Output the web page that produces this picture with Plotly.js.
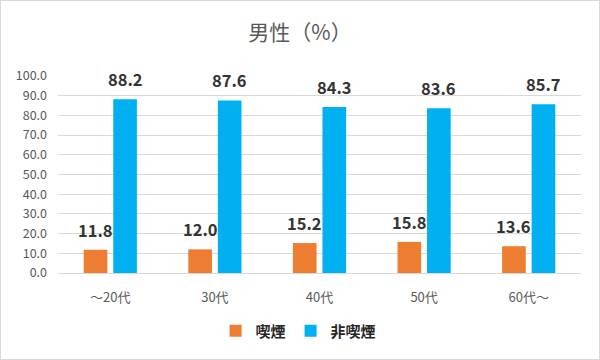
<!DOCTYPE html>
<html><head><meta charset="utf-8">
<script src="https://cdn.plot.ly/plotly-3.0.1.min.js"></script>
<style>body{margin:0;}#c{width:600px;height:360px;box-sizing:border-box;border:1px solid #d9d9d9;}</style>
</head><body><div id="c"></div>
<script>
const categories = ["～20代", "30代", "40代", "50代", "60代～"];
const smoking = [11.8, 12.0, 15.2, 15.8, 13.6];
const nonSmoking = [88.2, 87.6, 84.3, 83.6, 85.7];
const seriesNames = ["喫煙", "非喫煙"];
const tickVals = [0,10,20,30,40,50,60,70,80,90,100];

const FONT = "'Noto Sans CJK JP', 'Noto Sans', sans-serif";
const colors = ["#ED7D31", "#00B0F0"];

const traces = [
  {type:"bar", name:seriesNames[0], x:categories, y:smoking, marker:{color:colors[0]}},
  {type:"bar", name:seriesNames[1], x:categories, y:nonSmoking, marker:{color:colors[1]}}
];

const annotations = [];
[smoking, nonSmoking].forEach((vals, si) => {
  vals.forEach((v, i) => {
    annotations.push({
      x: categories[i], y: v, xref:"x", yref:"y",
      text: v.toFixed(1), showarrow:false,
      xshift: si === 0 ? -14.75 : 14.75, yshift: 6,
      yanchor:"bottom",
      font:{family:FONT, size:16.5, color:"#333333", weight:"bold"}
    });
  });
});

const layout = {
  width: 598, height: 358,
  margin:{l:57, r:18, t:75, b:80},
  paper_bgcolor:"#ffffff", plot_bgcolor:"#ffffff",
  title:{text:"男性（%）", x:0.5, xanchor:"center", y:0.912, yanchor:"middle",
         font:{family:FONT, size:21, color:"#595959"}},
  barmode:"group", bargap:0.435, bargroupgap:0.2,
  xaxis:{type:"category", tickfont:{family:FONT, size:13, color:"#595959"},
         ticklabelstandoff:15, showgrid:false, showline:false, zeroline:false},
  yaxis:{range:[0,100], tickvals:tickVals, tickformat:".1f",
         tickfont:{family:FONT, size:12.5, color:"#595959"}, ticklabelstandoff:10,
         gridcolor:"#d9d9d9", gridwidth:1, zeroline:true, zerolinecolor:"#d9d9d9",
         showline:false, fixedrange:true},
  legend:{orientation:"h", x:0.46, xanchor:"center", y:-0.295, yanchor:"middle",
          entrywidth:0, itemwidth:30,
          font:{family:FONT, size:15, color:"#262626", weight:"bold"}, traceorder:"normal"},
  annotations: annotations,
  showlegend:true
};
Plotly.newPlot("c", traces, layout, {displayModeBar:false, staticPlot:true});
</script></body></html>
